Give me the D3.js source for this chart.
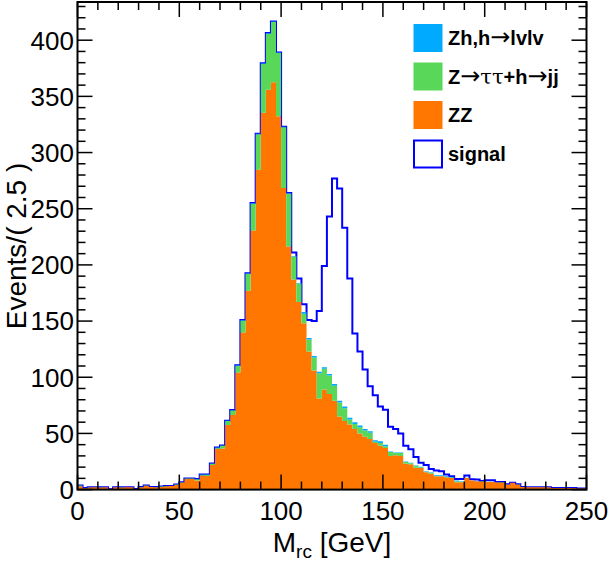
<!DOCTYPE html>
<html>
<head>
<meta charset="utf-8">
<script src="https://cdn.jsdelivr.net/npm/d3@7"></script>
<style>
  body { margin: 0; background: #fff; }
  svg { display: block; }
  text { font-family: "Liberation Sans", Arial, Helvetica, sans-serif; }
</style>
</head>
<body>
<svg id="chart" width="615" height="562"></svg>
<script>
// histogram: 100 bins of 2.5 GeV from 0 to 250
var binWidth = 2.5;
var nBins = 100;

// ZZ background (orange)
var zz = [3.0,1.3,1.8,2,1.8,2,0.3,2,1.8,2,
  2,0.6,2.2,3.4,2.4,2.2,2.4,3.0,3.3,4.2,
  6.2,9.4,9.4,8.0,12.5,12.2,22,36.3,36.6,57.4,
  66.4,104.2,139.9,177,230.6,284.8,335.4,356,362.5,332.4,
  268.5,216.4,187,167,148,123,106,81,89,85,
  79,65,61,58,54,50,47,45,41.5,39,
  37,30,30.5,30,23,22.5,19.5,19.3,15.4,14.2,
  11.9,11.9,11,10.4,6.5,6.5,10.4,8,7.4,7.4,
  6.8,6.8,6.5,6.5,4.5,6,4.5,2.4,2,2,
  2,2,2,1.5,1.5,1.5,1.5,1.5,1,1];

// Z->tautau + h->jj (green)
var ztt = [0.6,0.2,0.2,0,0.2,0,0.1,0,0.2,0,
  0,0,0.2,0.2,0,0.2,0.3,0.3,0,0.3,
  0.3,0.4,0.4,1.3,0.7,1.0,1.0,1.0,2.5,3.7,
  3.9,6.0,10.5,15.1,23.9,31.4,43.6,49.8,53.7,56.1,
  54,47.1,20.5,16.5,8.5,10.5,11.5,22.5,18.5,16.5,
  13.5,12.5,11.5,4.5,4.5,5.5,5.5,5.5,1.0,2.5,
  1.5,3.5,2,2.5,1.5,1.0,1.5,0.5,0.5,0.7,
  0.5,0.3,0.3,0.4,1.0,0.5,0.1,0.1,0.1,0.1,
  0.1,0.1,0.1,0.1,0.1,0.1,0.1,0,0,0,
  0,0,0,0,0,0,0,0,0,0];

// Zh, h->lvlv (light blue)
var zh = [0,0,0,0,0,0,0,0,0,0,
  0,0,0,0,0,0,0,0,0,0,
  0,0,0,0.2,0.2,0.2,0.2,0.2,0.2,0.2,
  0.5,0.5,0.5,0.5,0.5,0.5,0.5,0.5,0.5,0.5,
  0.5,0.5,0.5,0.5,1.5,1.5,1.5,1.5,1.5,1.5,
  1.5,1.5,1.5,1.5,1.5,1.5,1.5,1.5,1.5,1.5,
  1.5,0.5,0.5,0.5,0.5,0.5,0.5,0.5,0.5,0.5,
  0.5,0.5,0.5,0.5,0.5,0.5,0.1,0.1,0.1,0.1,
  0.1,0.1,0.1,0.1,0.1,0.1,0.1,0,0,0,
  0,0,0,0,0,0,0,0,0,0];

// signal (outline sits on top of the background sum)
var signal = [0,0,0,0,0,0,0,0,0,0,
  0,0,0,0,0,0,0,0,0,0,
  0,0,0,0,0,0,0,0,0,0,
  0,0,0,0,0,0,0,0,0,0,
  0,0,3,4,7,16,31,54,90,140,
  183,189,159,124,79,66,53,40,40,31,
  31,22,21,17,14,12,7.5,3.7,5.6,3,
  4.1,3.6,1.6,0.5,1.5,2,1.9,1.1,1.4,0,
  1.3,1.3,0,0,0,0,0,0,0,0,
  0,0,0,0,0,0,0,0,0,0];

var xTicks = [0, 50, 100, 150, 200, 250];
var yTicks = [0, 50, 100, 150, 200, 250, 300, 350, 400];

// legend labels split so arrows / greek letters can use a symbol-like font
var legendParts = [
  [["Zh,h", 0], ["\u2192", 1], ["lvlv", 0]],
  [["Z", 0], ["\u2192", 1], ["\u03c4\u03c4", 2], ["+h", 0], ["\u2192", 1], ["jj", 0]],
  [["ZZ", 0]],
  [["signal", 0]]
];
var colors = {zh: "#00aaff", ztt: "#58d758", zz: "#ff7700", signal: "#0000ff"};

var svg = d3.select("#chart");

var x = d3.scaleLinear().domain([0, 250]).range([77.5, 586.5]);
var y = d3.scaleLinear().domain([0, 434]).range([489.6, 2]);

var rows = d3.range(nBins).map(function(i) {
  return {lo: i * binWidth, hi: (i + 1) * binWidth, zz: zz[i], ztt: ztt[i], zh: zh[i], signal: signal[i]};
});

var stack = d3.stack().keys(["zz", "ztt", "zh"]);
var series = stack(rows);

svg.append("clipPath").attr("id", "plotclip")
  .append("rect").attr("x", x(0)).attr("y", y(434)).attr("width", x(250) - x(0)).attr("height", y(0) - y(434));

var plot = svg.append("g").attr("clip-path", "url(#plotclip)");

// signal outline = background + signal, drawn first so the stack covers it
var line = d3.line().x(function(d) { return x(d[0]); }).y(function(d) { return y(d[1]); });
var sigPts = [[0, 0]];
rows.forEach(function(r) {
  var v = r.zz + r.ztt + r.zh + r.signal;
  sigPts.push([r.lo, v]);
  sigPts.push([r.hi, v]);
});
sigPts.push([250, 0]);
plot.append("path")
  .attr("d", line(sigPts))
  .attr("fill", "none")
  .attr("stroke", colors.signal)
  .attr("stroke-width", 2);

var area = d3.area()
  .x(function(d) { return x(d.x); })
  .y0(function(d) { return y(d.y0); })
  .y1(function(d) { return y(d.y1); });

series.forEach(function(s) {
  var pts = [];
  s.forEach(function(d, i) {
    pts.push({x: rows[i].lo, y0: d[0], y1: d[1]});
    pts.push({x: rows[i].hi, y0: d[0], y1: d[1]});
  });
  plot.append("path")
    .attr("d", area(pts))
    .attr("fill", colors[s.key]);
});

// frame and ticks
var axes = svg.append("g").attr("stroke", "#000").attr("stroke-width", 1.5);
d3.range(0, 251, 10).forEach(function(v) {
  var len = v % 50 === 0 ? 15 : 8;
  axes.append("line").attr("x1", x(v)).attr("x2", x(v)).attr("y1", y(0)).attr("y2", y(0) - len);
  axes.append("line").attr("x1", x(v)).attr("x2", x(v)).attr("y1", y(434)).attr("y2", y(434) + len);
});
d3.range(0, 431, 10).forEach(function(v) {
  var len = v % 50 === 0 ? 15 : 8;
  axes.append("line").attr("x1", x(0)).attr("x2", x(0) + len).attr("y1", y(v)).attr("y2", y(v));
  axes.append("line").attr("x1", x(250)).attr("x2", x(250) - len).attr("y1", y(v)).attr("y2", y(v));
});
svg.append("rect")
  .attr("x", x(0)).attr("y", y(434))
  .attr("width", x(250) - x(0)).attr("height", y(0) - y(434))
  .attr("fill", "none").attr("stroke", "#000").attr("stroke-width", 2);

// tick labels
svg.append("g").selectAll("text").data(xTicks).enter().append("text")
  .attr("x", function(d) { return x(d); })
  .attr("y", 520)
  .attr("text-anchor", "middle")
  .attr("font-size", 26)
  .text(function(d) { return d; });

svg.append("g").selectAll("text").data(yTicks).enter().append("text")
  .attr("x", 74)
  .attr("y", function(d) { return y(d); })
  .attr("dy", "0.36em")
  .attr("text-anchor", "end")
  .attr("font-size", 26)
  .text(function(d) { return d; });

// axis titles
var xt = svg.append("text")
  .attr("x", 332).attr("y", 552)
  .attr("text-anchor", "middle")
  .attr("font-size", 28);
xt.append("tspan").text("M");
xt.append("tspan").attr("font-size", 19).attr("dy", 6).text("rc");
xt.append("tspan").attr("dy", -6).text(" [GeV]");

svg.append("text")
  .attr("transform", "translate(26,246) rotate(-90)")
  .attr("text-anchor", "middle")
  .attr("font-size", 28)
  .text("Events/( 2.5 )");

// legend
var legend = svg.append("g");
var legendKeys = ["zh", "ztt", "zz", "signal"];
legendKeys.forEach(function(k, i) {
  var top = 24 + i * 38.5;
  if (k === "signal") {
    legend.append("rect").attr("x", 414).attr("y", top + 1).attr("width", 28).attr("height", 27)
      .attr("fill", "#fff").attr("stroke", colors.signal).attr("stroke-width", 2);
  } else {
    legend.append("rect").attr("x", 413.5).attr("y", top).attr("width", 29).attr("height", 28)
      .attr("fill", colors[k]);
  }
  var t = legend.append("text")
    .attr("x", 448).attr("y", top + 21)
    .attr("font-size", 20).attr("font-weight", "bold");
  legendParts[i].forEach(function(p) {
    var ts = t.append("tspan").text(p[0]);
    if (p[1] === 1) {
      ts.attr("font-family", "'DejaVu Sans', sans-serif").attr("font-weight", "normal")
        .attr("font-size", 24).attr("dy", 0);
    } else if (p[1] === 2) {
      ts.attr("font-family", "'DejaVu Serif', serif").attr("font-weight", "normal")
        .attr("font-size", 21);
    }
  });
});
</script>
</body>
</html>
